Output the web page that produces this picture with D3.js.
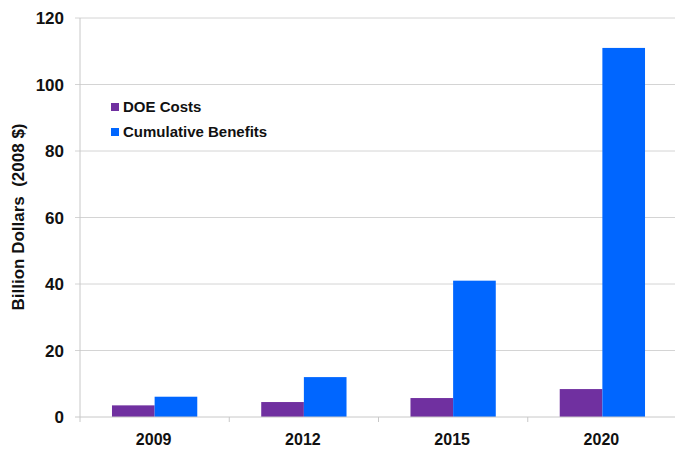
<!DOCTYPE html>
<html lang="en">
<head>
<meta charset="UTF-8">
<title>DOE Costs vs Benefits</title>
<script src="https://d3js.org/d3.v7.min.js"></script>
<style>
  body { margin: 0; background: #fff; }
  svg text { font-family: Arial, "Liberation Sans", sans-serif; font-weight: bold; fill: #111; }
</style>
</head>
<body>
<svg id="chart" width="675" height="450"></svg>
<script>
// chart data
const years = ['2009', '2012', '2015', '2020'];
const doeCosts = [3.5, 4.5, 5.7, 8.4];
const cumBenefits = [6.1, 12, 41, 111];
const seriesNames = ['DOE Costs', 'Cumulative Benefits'];
const yTicks = [0, 20, 40, 60, 80, 100, 120];

const colors = ['#7030a0', '#0066ff'];
const svg = d3.select('#chart');
const margin = {left: 80, right: -2, top: 18, bottom: 33};
const W = 675, H = 450;

const x = d3.scaleBand().domain(years).range([margin.left, W - margin.right]);
const xs = d3.scaleBand().domain(seriesNames).range([0, x.bandwidth()]).paddingInner(0).paddingOuter(0.75);
const y = d3.scaleLinear().domain([0, 120]).range([H - margin.bottom, margin.top]);

// gridlines
svg.append('g').selectAll('line')
  .data(yTicks.filter(d => d > 0))
  .enter().append('line')
  .attr('x1', margin.left - 5).attr('x2', W)
  .attr('y1', d => y(d)).attr('y2', d => y(d))
  .attr('stroke', '#d4d4d4').attr('stroke-width', 1);

// y labels
svg.append('g').selectAll('text')
  .data(yTicks)
  .enter().append('text')
  .attr('x', 64).attr('y', d => y(d) + 6)
  .attr('text-anchor', 'end')
  .attr('font-size', 17)
  .text(d => d);

// bars
const rows = years.map((yr, i) => ({year: yr, vals: [doeCosts[i], cumBenefits[i]]}));
const grp = svg.append('g').selectAll('g')
  .data(rows).enter().append('g')
  .attr('transform', d => `translate(${x(d.year)},0)`);
grp.selectAll('rect')
  .data(d => d.vals.map((v, j) => ({name: seriesNames[j], v: v, j: j})))
  .enter().append('rect')
  .attr('x', d => xs(d.name))
  .attr('width', xs.bandwidth())
  .attr('y', d => y(d.v))
  .attr('height', d => y(0) - y(d.v))
  .attr('fill', d => colors[d.j]);

// axes lines
svg.append('line')
  .attr('x1', margin.left).attr('x2', margin.left)
  .attr('y1', margin.top).attr('y2', y(0) + 5)
  .attr('stroke', '#c8c8c8');
svg.append('line')
  .attr('x1', margin.left - 5).attr('x2', W)
  .attr('y1', y(0)).attr('y2', y(0))
  .attr('stroke', '#c8c8c8');
svg.append('g').selectAll('line')
  .data(years.slice(1))
  .enter().append('line')
  .attr('x1', d => x(d)).attr('x2', d => x(d))
  .attr('y1', y(0)).attr('y2', y(0) + 5)
  .attr('stroke', '#c8c8c8');

// x labels
svg.append('g').selectAll('text')
  .data(years)
  .enter().append('text')
  .attr('x', d => x(d) + x.bandwidth() / 2 - 1)
  .attr('y', 445)
  .attr('text-anchor', 'middle')
  .attr('font-size', 16)
  .text(d => d);

// y title
svg.append('text')
  .attr('transform', 'translate(24,217) rotate(-90)')
  .attr('text-anchor', 'middle')
  .attr('font-size', 17)
  .attr('xml:space', 'preserve')
  .text('Billion Dollars  (2008 $)');

// legend
const leg = svg.append('g').attr('transform', 'translate(111,103)');
seriesNames.forEach((name, i) => {
  leg.append('rect')
    .attr('x', 0).attr('y', i * 25)
    .attr('width', 8).attr('height', 8)
    .attr('fill', colors[i]);
  leg.append('text')
    .attr('x', 12).attr('y', i * 25 + 9)
    .attr('font-size', 15)
    .text(name);
});
</script>
</body>
</html>
